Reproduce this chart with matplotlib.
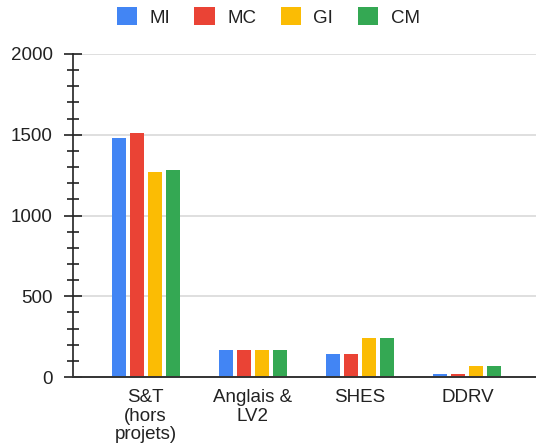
import matplotlib
matplotlib.use("Agg")
import matplotlib.pyplot as plt
from matplotlib.patches import Patch
import numpy as np

plt.rcParams['font.family'] = ['Liberation Sans', 'DejaVu Sans']

categories = ["S&T\n(hors\nprojets)", "Anglais &\nLV2", "SHES", "DDRV"]
series_names = ["MI", "MC", "GI", "CM"]
MI = [1480, 170, 140, 20]
MC = [1510, 170, 140, 20]
GI = [1270, 170, 240, 70]
CM = [1280, 170, 240, 70]
colors = ["#4285F4", "#EA4335", "#FBBC04", "#34A853"]
yticks = [0, 500, 1000, 1500, 2000]

fig = plt.figure(figsize=(5.36, 4.47), dpi=100)
ax = fig.add_axes([73/536, 70/447, 1 - 73/536, 323/447])

x = np.arange(len(categories))
step = 0.1674
width = 0.13
for i, (vals, c) in enumerate(zip([MI, MC, GI, CM], colors)):
    ax.bar(x + (i - 1.5) * step, vals, width=width, color=c, zorder=3, linewidth=0)

ax.set_xlim(-0.677, 3.64)
ax.set_ylim(0, 2000)
ax.set_yticks(yticks)
ax.set_yticks(np.arange(0, 2001, 100), minor=True)
ax.set_xticks(x)
ax.set_xticklabels(categories, fontsize=13.5, color="#222222", linespacing=1.1)
ax.tick_params(axis='x', length=0, pad=9)
ax.tick_params(axis='y', which='major', direction='inout', length=13, width=1.2,
               color='#222222', labelsize=13.5, labelcolor='#222222', pad=8)
ax.tick_params(axis='y', which='minor', direction='inout', length=8, width=1.2,
               color='#222222')
ax.grid(axis='y', which='major', color='#d9d9d9', linewidth=1.2, zorder=0)
for s in ['top', 'right']:
    ax.spines[s].set_visible(False)
ax.spines['left'].set_color('#222222')
ax.spines['left'].set_linewidth(1.2)
ax.spines['bottom'].set_color('#333333')
ax.spines['bottom'].set_linewidth(1.4)
ax.spines['bottom'].set_zorder(4)

handles = [Patch(facecolor=c, edgecolor='none', label=n) for n, c in zip(series_names, colors)]
fig.legend(handles=handles, loc='center', bbox_to_anchor=(0.5, 1 - 17/447), ncol=4,
           frameon=False, fontsize=13.5, handlelength=1.1, handleheight=1.1,
           handletextpad=0.65, columnspacing=1.3, labelcolor='#222222')

fig.savefig("out.png", dpi=100)
